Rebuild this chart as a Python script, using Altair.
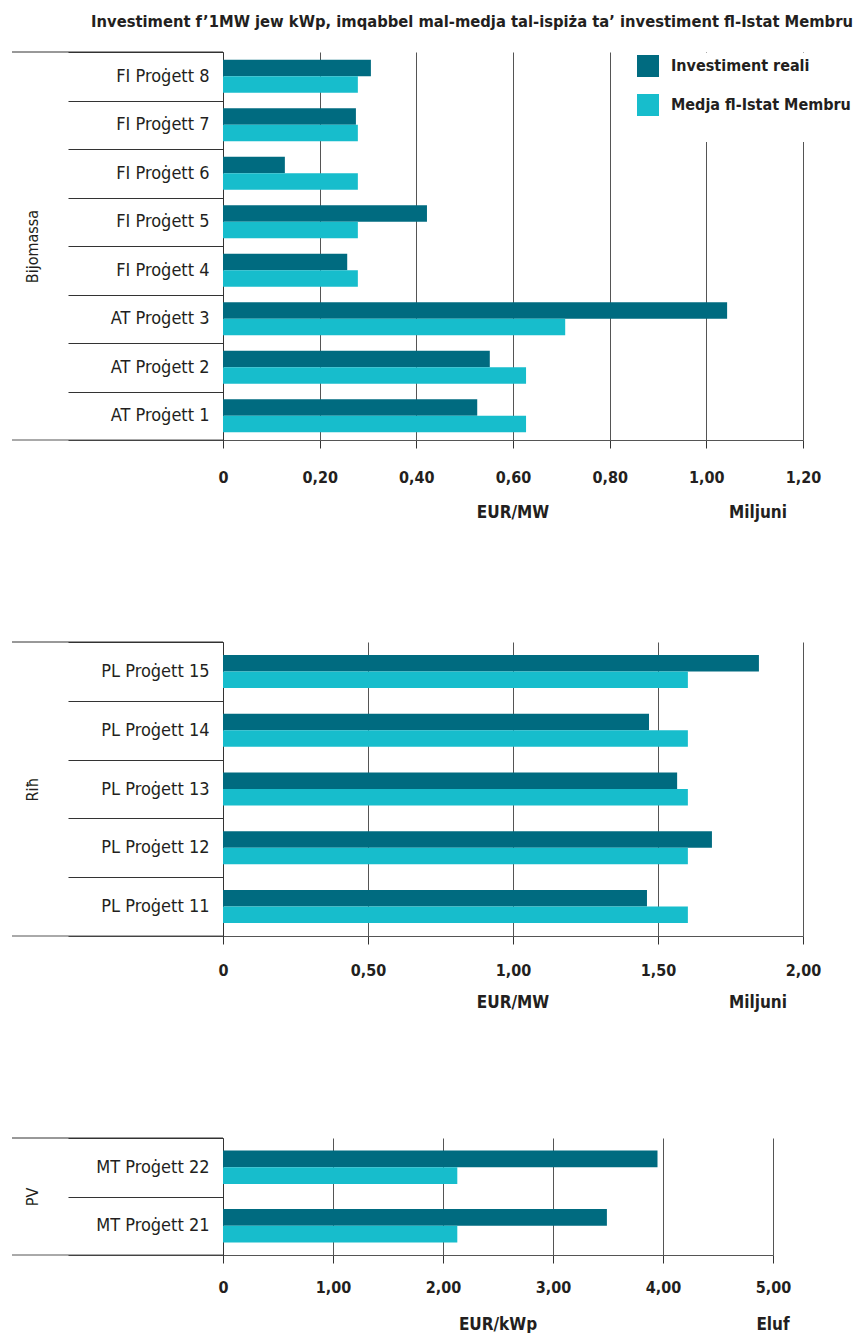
import altair as alt
import pandas as pd

FONT = "'Liberation Sans Narrow', 'DejaVu Sans Condensed', 'Roboto Condensed', 'Arial Narrow', Roboto, sans-serif"
DARK = "#231f20"
SERIES = ["Investiment reali", "Medja fl-Istat Membru"]
COLORS = ["#006b80", "#17bdcc"]

bio_projects = ["FI Proġett 8", "FI Proġett 7", "FI Proġett 6", "FI Proġett 5",
                "FI Proġett 4", "AT Proġett 3", "AT Proġett 2", "AT Proġett 1"]
bio_real = [0.306, 0.275, 0.128, 0.422, 0.257, 1.043, 0.552, 0.526]
bio_avg = [0.279, 0.279, 0.279, 0.279, 0.279, 0.708, 0.627, 0.627]
bio_ticks = [0, 0.2, 0.4, 0.6, 0.8, 1.0, 1.2]

wind_projects = ["PL Proġett 15", "PL Proġett 14", "PL Proġett 13",
                 "PL Proġett 12", "PL Proġett 11"]
wind_real = [1.848, 1.469, 1.566, 1.686, 1.462]
wind_avg = [1.603, 1.603, 1.603, 1.603, 1.603]
wind_ticks = [0, 0.5, 1.0, 1.5, 2.0]

pv_projects = ["MT Proġett 22", "MT Proġett 21"]
pv_real = [3.95, 3.49]
pv_avg = [2.13, 2.13]
pv_ticks = [0, 1, 2, 3, 4, 5]

title_text = "Investiment f’1MW jew kWp, imqabbel mal-medja tal-ispiża ta’ investiment fl-Istat Membru"

CAT_FS = 18
TICK_FS = 16
UNIT_FS = 17
YTITLE_FS = 16
TITLE_FS = 16.4


def make_df(projects, real, avg):
    rows = []
    for p, r, a in zip(projects, real, avg):
        rows.append({"project": p, "series": SERIES[0], "value": r})
        rows.append({"project": p, "series": SERIES[1], "value": a})
    return pd.DataFrame(rows)


def panel(projects, real, avg, ticks, width, height, ytitle, unit1, unit2,
          pad_outer, unit_dy, label_pad, legend=None, title=None):
    df = make_df(projects, real, avg)
    one = alt.Data(values=[{}])
    bars = alt.Chart(df).mark_bar().encode(
        y=alt.Y("project:N", sort=projects,
                scale=alt.Scale(paddingInner=0, paddingOuter=0),
                axis=alt.Axis(title=ytitle, titleX=-191, titleY=height / 2,
                              titleAngle=270, titleBaseline="middle",
                              titleAlign="center", titleFont=FONT,
                              titleFontSize=YTITLE_FS, titleFontWeight="normal",
                              titleColor=DARK, labelFont=FONT,
                              labelFontSize=CAT_FS, labelColor=DARK,
                              labelPadding=-141, tickSize=155,
                              tickBand="extent", tickColor="#333333",
                              domainColor="#333333", labelLimit=0,
                              grid=False)),
        x=alt.X("value:Q",
                scale=alt.Scale(domain=[ticks[0], ticks[-1]], nice=False),
                axis=alt.Axis(values=ticks, title=None, grid=True,
                              gridColor="#555555", gridWidth=1,
                              tickSize=8, tickColor="#333333",
                              domainColor="#555555", labelFont=FONT,
                              labelFontSize=TICK_FS, labelFontWeight="bold",
                              labelColor=DARK, labelPadding=label_pad,
                              labelFlush=False,
                              labelExpr="datum.value == 0 ? '0' : replace(format(datum.value, '.2f'), '.', ',')")),
        yOffset=alt.YOffset("series:N", sort=SERIES,
                            scale=alt.Scale(paddingInner=0,
                                            paddingOuter=pad_outer)),
        color=alt.Color("series:N",
                        scale=alt.Scale(domain=SERIES, range=COLORS),
                        legend=legend),
    )
    top_line = alt.Chart(one).mark_rule(color="#333333", strokeWidth=1).encode(
        x=alt.value(-211), x2=alt.value(0), y=alt.value(0))
    bot_line = alt.Chart(one).mark_rule(color="#555555", strokeWidth=1).encode(
        x=alt.value(-211), x2=alt.value(0), y=alt.value(height))
    t1 = alt.Chart(one).mark_text(font=FONT, fontSize=UNIT_FS, fontWeight="bold",
                                  color=DARK, baseline="middle").encode(
        x=alt.value(width / 2), y=alt.value(height + unit_dy),
        text=alt.value(unit1))
    t2 = alt.Chart(one).mark_text(font=FONT, fontSize=UNIT_FS, fontWeight="bold",
                                  color=DARK, baseline="middle").encode(
        x=alt.value(unit2[1]), y=alt.value(height + unit_dy),
        text=alt.value(unit2[0]))
    layers = [bars, top_line, bot_line, t1, t2]
    if title is not None:
        tt = alt.Chart(one).mark_text(font=FONT, fontSize=TITLE_FS,
                                      fontWeight="bold", color=DARK,
                                      baseline="middle", align="center").encode(
            x=alt.value(249), y=alt.value(-30), text=alt.value(title))
        layers.append(tt)
    return alt.layer(*layers).properties(width=width, height=height)


legend = alt.Legend(orient="none", legendX=412, legendY=1, title=" ",
                    titleOrient="bottom", titleFontSize=14, titlePadding=10,
                    symbolType="square", symbolSize=484, symbolStrokeWidth=0,
                    labelFont=FONT, labelFontSize=16, labelFontWeight="bold",
                    labelColor=DARK, labelOffset=12, rowPadding=17,
                    padding=2, fillColor="white", labelLimit=0)

p1 = panel(bio_projects, bio_real, bio_avg, bio_ticks, 580, 388, "Bijomassa",
           "EUR/MW", ("Miljuni", 535), 0.47, 73, 21, legend, title_text)
p2 = panel(wind_projects, wind_real, wind_avg, wind_ticks, 580, 294, "Riħ",
           "EUR/MW", ("Miljuni", 535), 0.78, 67, 18)
p3 = panel(pv_projects, pv_real, pv_avg, pv_ticks, 550, 117, "PV",
           "EUR/kWp", ("Eluf", 550), 0.74, 70, 16)

chart = alt.vconcat(p1, p2, p3, spacing=202, bounds="flush").resolve_scale(
    x="independent", y="independent", yOffset="independent",
    color="shared").properties(
    padding={"left": 3, "top": 6, "right": 0, "bottom": 0},
).configure_view(stroke=None)

chart.save("out.html", embed_options={"renderer": "svg", "actions": False})
